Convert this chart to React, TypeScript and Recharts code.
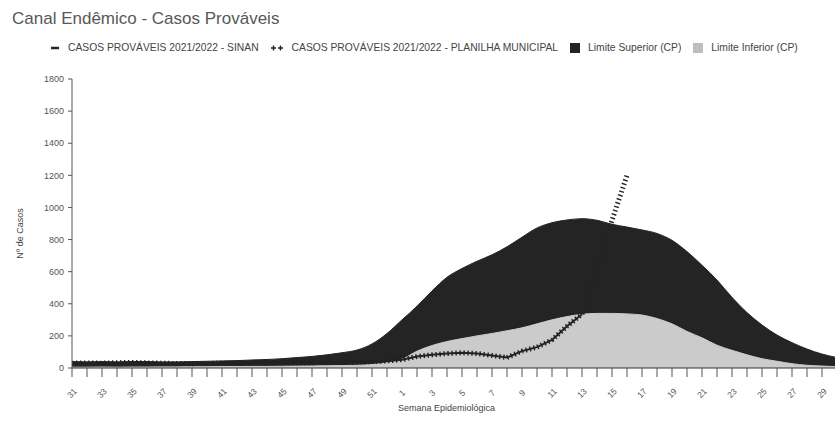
import { Area, ComposedChart, Legend, Line, XAxis, YAxis } from "recharts";

const FONT = "Arial, 'Liberation Sans', sans-serif";
const DARK = "#242424";
const LIGHT = "#cbcbcb";
const LINE = "#222222";

// semanas epidemiológicas 31/2021 .. 30/2022
const WEEKS = [
  31, 32, 33, 34, 35, 36, 37, 38, 39, 40, 41, 42, 43, 44, 45, 46, 47, 48, 49, 50, 51, 52,
  1, 2, 3, 4, 5, 6, 7, 8, 9, 10, 11, 12, 13, 14, 15, 16, 17, 18, 19, 20, 21, 22, 23, 24, 25,
  26, 27, 28, 29, 30,
];

const LIMITE_SUPERIOR = [
  40, 38, 40, 38, 40, 40, 38, 38, 40, 42, 44, 46, 50, 53, 58, 65, 72, 82, 95, 112, 150, 215,
  300, 385, 480, 565, 620, 665, 705, 755, 815, 872, 905, 922, 930, 920, 895, 878, 860, 838,
  795, 725, 640, 548, 440, 345, 268, 205, 158, 118, 87, 65,
];

const LIMITE_INFERIOR = [
  5, 5, 6, 5, 6, 6, 7, 7, 8, 8, 9, 9, 10, 10, 11, 12, 13, 14, 15, 17, 22, 32,
  55, 105, 140, 165, 183, 200, 215, 232, 250, 275, 300, 320, 335, 340, 340, 337, 330, 308,
  275, 228, 188, 142, 110, 82, 58, 42, 27, 17, 12, 8,
];

const SINAN = [
  30, 32, 30, 33, 35, 32, 30, 28, 27, 28, 30, 30, 30, 32, 33, 32, 33, 35, 37, 38, 40, 44,
  52, 72, 82, 90, 95, 90, 78, 65, 105, 130, 175, 260, 335,
];

const PLANILHA = [
  30, 32, 30, 33, 35, 32, 30, 28, 27, 28, 30, 30, 30, 32, 33, 32, 33, 35, 37, 38, 40, 44,
  52, 72, 82, 90, 95, 90, 78, 65, 105, 130, 175, 260, 335, 620, 920, 1200,
];

const Y_TICKS = [0, 200, 400, 600, 800, 1000, 1200, 1400, 1600, 1800];

const LEGEND_ORDER = ["sinan", "planilha", "sup", "inf"];

const data = WEEKS.map((w, i) => ({
  semana: String(w),
  sup: LIMITE_SUPERIOR[i],
  inf: LIMITE_INFERIOR[i],
  sinan: SINAN[i] ?? null,
  planilha: PLANILHA[i] ?? null,
}));

function SemanaTick({ x, y, payload, index }: any) {
  if (index % 2 !== 0) return <g />;
  const cy = y + 14;
  return (
    <text
      x={x}
      y={cy}
      transform={`rotate(-45 ${x} ${cy})`}
      textAnchor="middle"
      dominantBaseline="central"
      fontSize={8.5}
      fontFamily={FONT}
      fill="#555"
    >
      {payload.value}
    </text>
  );
}

function LegendIcon({ dataKey, color }: { dataKey: string; color: string }) {
  if (dataKey === "sinan") {
    return (
      <svg width={10} height={10}>
        <line x1={1} y1={5} x2={9} y2={5} stroke={color} strokeWidth={2.5} />
      </svg>
    );
  }
  if (dataKey === "planilha") {
    return (
      <svg width={13} height={10}>
        <path d="M0 5H5M2.5 2.5V7.5M7 5H12M9.5 2.5V7.5" stroke={color} strokeWidth={1.4} />
      </svg>
    );
  }
  return (
    <svg width={10} height={10}>
      <rect x={0} y={0} width={10} height={10} fill={color} />
    </svg>
  );
}

function LegendContent({ payload }: any) {
  const items = [...(payload ?? [])].sort(
    (a, b) => LEGEND_ORDER.indexOf(a.dataKey) - LEGEND_ORDER.indexOf(b.dataKey)
  );
  return (
    <div
      style={{
        display: "flex",
        alignItems: "center",
        paddingLeft: 50,
        fontFamily: FONT,
        fontSize: 10.3,
        color: "#444",
        whiteSpace: "nowrap",
      }}
    >
      {items.map((it: any) => (
        <span key={it.dataKey} style={{ display: "flex", alignItems: "center", marginRight: 12 }}>
          <LegendIcon dataKey={it.dataKey} color={it.dataKey === "inf" ? "#bdbdbd" : DARK} />
          <span style={{ marginLeft: 8 }}>{it.value}</span>
        </span>
      ))}
    </div>
  );
}

export default function App() {
  return (
    <div
      style={{
        position: "absolute",
        left: 0,
        top: 0,
        width: 835,
        height: 423,
        background: "#fff",
        fontFamily: FONT,
      }}
    >
      <div style={{ position: "absolute", left: 12, top: 9, fontSize: 17, color: "#585858" }}>
        Canal Endêmico - Casos Prováveis
      </div>
      <ComposedChart
        width={835}
        height={423}
        data={data}
        margin={{ top: 79, right: -2, bottom: 25, left: 0 }}
      >
        <XAxis
          dataKey="semana"
          interval={0}
          height={30}
          tickSize={9}
          tick={SemanaTick}
          axisLine={{ stroke: "#333" }}
          tickLine={{ stroke: "#555" }}
          label={{
            content: ({ viewBox }: any) => (
              <text
                x={viewBox.x + viewBox.width / 2 - 8}
                y={viewBox.y + viewBox.height + 13}
                textAnchor="middle"
                fontSize={9}
                fontFamily={FONT}
                fill="#444"
              >
                Semana Epidemiológica
              </text>
            ),
          }}
        />
        <YAxis
          width={72}
          domain={[0, 1800]}
          ticks={Y_TICKS}
          tickSize={4}
          tickMargin={4}
          tick={{ fontSize: 9, fill: "#555", fontFamily: FONT }}
          axisLine={{ stroke: "#555" }}
          tickLine={{ stroke: "#555" }}
          label={{
            content: ({ viewBox }: any) => {
              const cx = 20;
              const cy = viewBox.y + viewBox.height / 2 + 10;
              return (
                <text
                  x={cx}
                  y={cy}
                  transform={`rotate(-90 ${cx} ${cy})`}
                  textAnchor="middle"
                  dominantBaseline="central"
                  fontSize={9}
                  fontFamily={FONT}
                  fill="#444"
                >
                  Nº de Casos
                </text>
              );
            },
          }}
        />
        <Legend
          layout="vertical"
          align="center"
          verticalAlign="middle"
          wrapperStyle={{ top: 42, left: 0, width: 835 }}
          content={LegendContent}
        />
        <Area
          type="monotone"
          dataKey="sup"
          name="Limite Superior (CP)"
          stroke={DARK}
          fill={DARK}
          fillOpacity={1}
          isAnimationActive={false}
          activeDot={false}
        />
        <Area
          type="monotone"
          dataKey="inf"
          name="Limite Inferior (CP)"
          stroke={LIGHT}
          fill={LIGHT}
          fillOpacity={1}
          isAnimationActive={false}
          activeDot={false}
        />
        <Line
          type="linear"
          dataKey="sinan"
          name="CASOS PROVÁVEIS 2021/2022 - SINAN"
          stroke={LINE}
          strokeWidth={2}
          dot={false}
          activeDot={false}
          isAnimationActive={false}
        />
        <Line
          type="linear"
          dataKey="planilha"
          name="CASOS PROVÁVEIS 2021/2022 - PLANILHA MUNICIPAL"
          stroke={LINE}
          strokeWidth={5}
          strokeDasharray="1.4 2.6"
          dot={false}
          activeDot={false}
          isAnimationActive={false}
        />
      </ComposedChart>
    </div>
  );
}
